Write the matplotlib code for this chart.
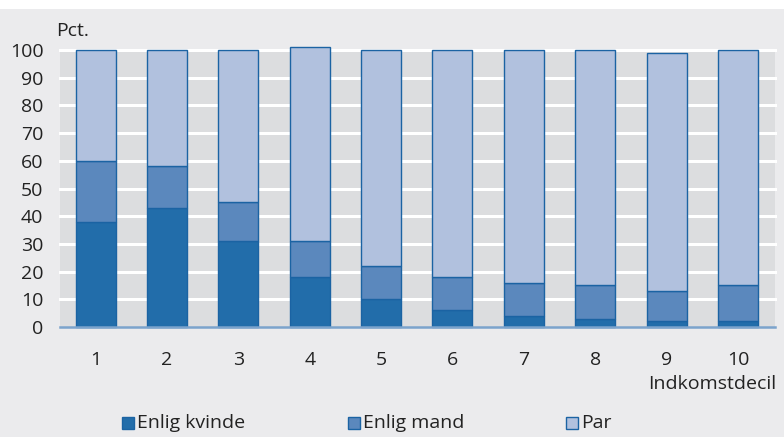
import matplotlib
matplotlib.use("Agg")
import matplotlib.pyplot as plt
from matplotlib.patches import Rectangle
from matplotlib import font_manager
import numpy as np

deciles = ["1", "2", "3", "4", "5", "6", "7", "8", "9", "10"]
enlig_kvinde = [38, 43, 31, 18, 10, 6, 4, 3, 2, 2]
enlig_mand = [22, 15, 14, 13, 12, 12, 12, 12, 11, 13]
par = [40, 42, 55, 70, 78, 82, 84, 85, 86, 85]
series_names = ["Enlig kvinde", "Enlig mand", "Par"]
colors = ["#226DAA", "#5B88BD", "#B1C1DE"]
yticks = [0, 10, 20, 30, 40, 50, 60, 70, 80, 90, 100]

names = {f.name for f in font_manager.fontManager.ttflist}
if "Liberation Sans Narrow" in names:
    fam = ['Liberation Sans Narrow', 'DejaVu Sans']
    fs = 15
else:
    fam = ['Open Sans', 'DejaVu Sans']
    fs = 14
plt.rcParams['font.family'] = fam

W, H = 784, 437
fig = plt.figure(figsize=(W / 100, H / 100), dpi=100)
fig.patch.set_facecolor("white")
fig.patches.append(Rectangle((0, 0), 1, (H - 9) / H, transform=fig.transFigure,
                             facecolor="#EBEBED", edgecolor="none", zorder=-10))

left, right, top, bottom = 60, 775, 50, 327
ax = fig.add_axes([left / W, 1 - bottom / H, (right - left) / W, (bottom - top) / H])
ax.set_facecolor("#DCDDDF")

x = np.arange(1, len(deciles) + 1)
w = 0.56
b = np.zeros(len(x))
for vals, c, name in zip([enlig_kvinde, enlig_mand, par], colors, series_names):
    bars = ax.bar(x, vals, w, bottom=b, color=c, edgecolor="#1B63A3", linewidth=1.0, zorder=3, label=name)
    for r in bars:
        r.set_clip_on(False)
    b = b + np.array(vals)

ax.set_xlim(0.5, 10.52)
ax.set_ylim(0, 100)
ax.set_yticks(yticks)
ax.set_yticklabels([str(t) for t in yticks], fontsize=fs, color="#222222")
ax.set_xticks(x)
ax.set_xticklabels(deciles, fontsize=fs, color="#222222")
ax.tick_params(axis="both", length=0)
ax.tick_params(axis="y", pad=12)
ax.tick_params(axis="x", pad=17)
for yt in yticks[1:]:
    ax.axhline(yt, color="white", linewidth=2.2, zorder=1, clip_on=False)
for s in ["top", "right", "left"]:
    ax.spines[s].set_visible(False)
ax.spines["bottom"].set_color("#7BA3CC")
ax.spines["bottom"].set_linewidth(1.8)
ax.spines["bottom"].set_zorder(4)

fig.text(56 / W, 1 - 31 / H, "Pct.", fontsize=fs, color="#222222", ha="left", va="center")
fig.text(776 / W, 1 - 384 / H, "Indkomstdecil", fontsize=fs, color="#222222", ha="right", va="center")

leg_x = [122, 348, 566]
for hx, c, name in zip(leg_x, colors, series_names):
    fig.patches.append(Rectangle((hx / W, 1 - 429 / H), 12 / W, 12 / H, transform=fig.transFigure,
                                 facecolor=c, edgecolor="#1B63A3", linewidth=1.0))
    fig.text((hx + 15) / W, 1 - 423 / H, name, fontsize=fs, color="#222222", ha="left", va="center")

fig.savefig("out.png", dpi=100)
